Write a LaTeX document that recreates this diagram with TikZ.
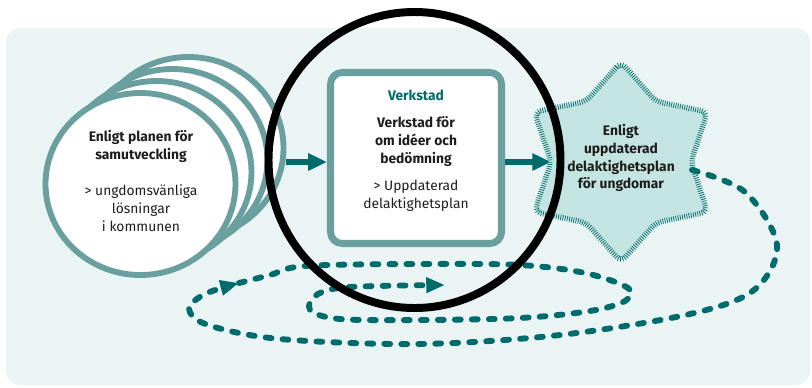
\documentclass[tikz,border=0pt]{standalone}
\usepackage{fontspec}
\setmainfont{Fira Sans}
\usetikzlibrary{arrows.meta,shapes.geometric,decorations.pathreplacing}
\definecolor{bgteal}{HTML}{EAF4F4}
\definecolor{ringteal}{HTML}{69A09F}
\definecolor{darkteal}{HTML}{006B6B}
\definecolor{starteal}{HTML}{C4E4E2}
\definecolor{inkgray}{HTML}{1E1E1E}
\tikzset{
	stackcirc/.style={ellipse, draw=ringteal, line width=5pt, fill=white, minimum width=5.7cm, minimum height=5.46cm, inner sep=0pt},
	bigarrow/.style={darkteal, line width=5.5pt, -{Triangle[length=16pt,width=14pt]}},
	looparrow/.style={darkteal, line width=5pt, line cap=round, dash pattern=on 5pt off 9.5pt, -{Triangle[length=16pt,width=12.5pt]}},
	starfill/.style={fill=starteal, draw=starteal, line width=2pt, rounded corners=6pt},
	starticks/.style={draw=darkteal, line width=0.6pt, rounded corners=6pt, decorate, decoration={ticks, segment length=1.9pt, amplitude=2.3pt}},
	txt/.style={align=center, text=inkgray, font=\fontsize{11.8}{15.3}\selectfont}
}
\begin{document}
\begin{tikzpicture}[x=0.03cm, y=-0.03cm]
				\useasboundingbox (0,0) rectangle (812,387);
				\fill[bgteal, rounded corners=12pt] (6,28) rectangle (810,385);
				\foreach \k in {3,2,1,0}
					\node[stackcirc] (circ\k) at ({140.5+16*\k},{184-12*\k}) {};
				\node[draw=ringteal, line width=6pt, fill=white, rounded corners=10pt, minimum width=5.13cm, minimum height=5.13cm] (box) at (416,158) {};
				\coordinate (star) at (621,162);
				\coordinate (starW) at (551,162);
				\coordinate (starE) at (692,170);
				\coordinate (loopArrow) at (239,283);
				\coordinate (innerTip) at (445,285);
				\foreach \i in {0,...,5} {
					\coordinate (so\i) at ({621+100*cos(90+60*\i)},{162-100*sin(90+60*\i)});
					\coordinate (si\i) at ({621+70*cos(120+60*\i)},{162-70*sin(120+60*\i)});
				}
				\draw[bigarrow] (circ3.east |- starW) -- (box.west |- starW);
				\draw[bigarrow] (box.east |- starW) -- (starW);
				\path[starfill] (so0) -- (si0) -- (so1) -- (si1) -- (so2) -- (si2) -- (so3) -- (si3) -- (so4) -- (si4) -- (so5) -- (si5) -- cycle;
				\path[starticks] (so0) -- (si0) -- (so1) -- (si1) -- (so2) -- (si2) -- (so3) -- (si3) -- (so4) -- (si4) -- (so5) -- (si5) -- cycle;
				\node[txt] (circText) at (141,181) {\textbf{Enligt planen för}\\\textbf{samutveckling}\\[15pt]> ungdomsvänliga\\lösningar\\i kommunen};
				\node[txt] (boxText) at (416,151) {\textcolor{darkteal}{\textbf{Verkstad}}\\[7.5pt]\textbf{Verkstad för}\\\textbf{om idéer och}\\\textbf{bedömning}\\[8pt]> Uppdaterad\\delaktighetsplan};
				\node[txt] (starText) at (621,158) {\textbf{Enligt}\\\textbf{uppdaterad}\\\textbf{delaktighetsplan}\\\textbf{för ungdomar}};
				\draw[looparrow] plot[smooth, tension=0.55] coordinates {(starE) (745,192) (777,245) (754,290) (690,314) (560,335) (420,344) (280,339) (208,325) (189,309) (205,294) (loopArrow)};
				\draw[looparrow] plot[smooth, tension=0.55] coordinates {(loopArrow) (270,275) (305,266) (420,264) (520,265) (585,273) (628,288) (625,301) (590,311) (520,318) (420,320) (340,319) (310,310) (318,294) (350,287) (innerTip)};
				\draw[line width=6.8pt] (414.5,160) ellipse [x radius=146, y radius=148];
			\end{tikzpicture}
\end{document}
